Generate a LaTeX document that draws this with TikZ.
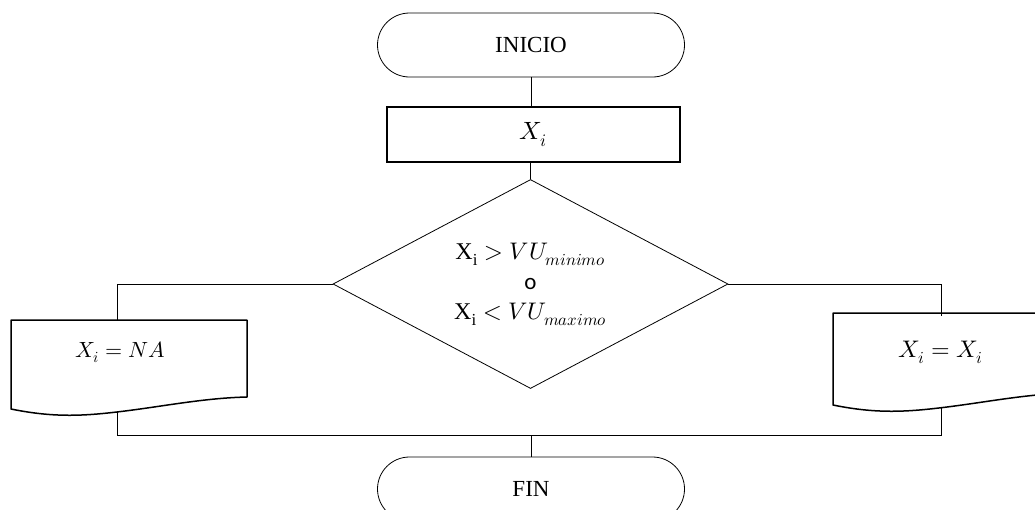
\documentclass[tikz,border=0pt]{standalone}
\usepackage{fontspec}
\usepackage{unicode-math}
\setmainfont{Liberation Serif}
\setmathfont{Latin Modern Math}
\newfontfamily\carlito{Carlito}
\usetikzlibrary{shapes.misc,shapes.geometric}
\begin{document}
\begin{tikzpicture}[x=1pt,y=-1pt,
 conn/.style={draw=black,line width=0.9pt},
 term/.style={draw,rounded rectangle,line width=0.8pt,minimum width=307pt,minimum height=64pt,inner sep=0pt,font=\fontsize{23}{26}\selectfont},
 procbox/.style={draw,rectangle,line width=1.1pt,minimum width=293pt,minimum height=55pt,inner sep=0pt,font=\fontsize{25}{30}\selectfont},
 decis/.style={draw,diamond,aspect=1.89,line width=0.8pt,minimum width=395pt,minimum height=209pt,inner sep=0pt,align=center,font=\fontsize{24}{30}\selectfont},
 docline/.style={line width=1.5pt,line join=round},
 doctext/.style={inner sep=0pt}]
\useasboundingbox (0,0) rectangle (1035,509);

\node[term] (start) at (531,45) {INICIO};
\node[procbox] (proc) at (533.5,134.5) {$X_i$};
\node[decis] (dec) at (530.5,284) {$\mathrm{X_i} > VU_{minimo}$\\{\carlito\fontsize{23}{30}\selectfont o}\\$\mathrm{X_i} < VU_{maximo}$};

% left document box
\draw[docline] (11,320) -- (247,320) -- (247,397) .. controls (205,398) and (165,406) .. (125,411) .. controls (85,416) and (55,418) .. (11,409) -- cycle;
\node[doctext,font=\fontsize{22}{24}\selectfont] (na) at (120,352) {$X_i = NA$};
% right document box
\draw[docline] (833,313) -- (1069,313) -- (1069,393) .. controls (1027,394) and (987,402) .. (947,407) .. controls (907,412) and (877,414) .. (833,405) -- cycle;
\node[doctext,font=\fontsize{24}{26}\selectfont] (xx) at (941,352) {$X_i = X_i$};

\coordinate (natop) at (117,320);
\coordinate (nabot) at (117,411.5);
\coordinate (xxtop) at (941,316);
\coordinate (xxbot) at (941,407);
\coordinate (join) at (531,435);

\node[term] (fin) at (531,489) {FIN};

\draw[conn] (start.south) -- (start.south |- proc.north);
\draw[conn] (proc.south -| dec.north) -- (dec.north);
\draw[conn] (dec.west) -| (natop);
\draw[conn] (dec.east) -| (xxtop);
\draw[conn] (nabot) -- (nabot |- join) -- (xxbot |- join) -- (xxbot);
\draw[conn] (join) -- (fin.north);
\end{tikzpicture}
\end{document}
